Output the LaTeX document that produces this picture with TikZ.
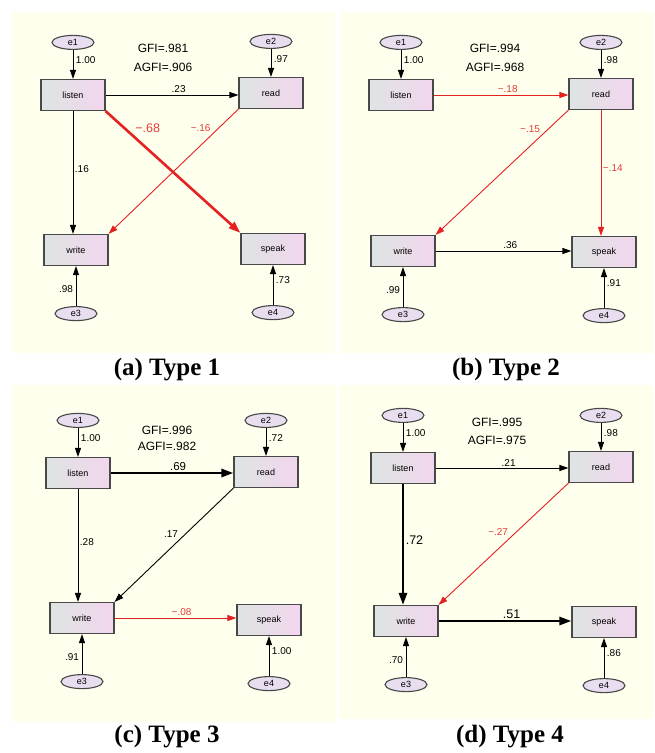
\documentclass[tikz,border=0pt]{standalone}
\usepackage{fontspec}
\setmainfont{Liberation Sans}
\newfontfamily\capfont{Liberation Serif}
\usetikzlibrary{positioning,arrows.meta,shapes.geometric}

\definecolor{cream}{RGB}{255,255,238}
\definecolor{boxleft}{RGB}{222,228,226}
\definecolor{boxright}{RGB}{242,214,238}
\definecolor{errfill}{RGB}{232,222,240}
\definecolor{semred}{RGB}{228,34,34}
\definecolor{labred}{RGB}{226,60,56}
\definecolor{frame}{RGB}{72,72,72}

\tikzset{
  obs/.style={draw=frame, line width=1.1pt, left color=boxleft, right color=boxright,
    minimum width=64pt, minimum height=31pt, inner sep=0pt, font=\fontsize{9}{10}\selectfont},
  err/.style={ellipse, draw=frame, line width=1.1pt, fill=errfill,
    minimum width=42pt, minimum height=14pt, inner sep=0pt, font=\fontsize{9}{10}\selectfont},
  link/.style={line width=0.9pt, -{Triangle[length=9pt,width=6pt]}},
  neg/.style={link, draw=semred},
  strong/.style={line width=2.6pt, -{Triangle[length=12pt,width=8pt]}},
  strongneg/.style={strong, draw=semred},
  lab/.style={font=\fontsize{10}{11}\selectfont, inner sep=1.5pt},
  neglab/.style={lab, text=labred},
  big/.style={font=\fontsize{12.5}{14}\selectfont, inner sep=1.5pt},
  gof/.style={align=center},
  caption/.style={font=\capfont\bfseries\fontsize{25}{28}\selectfont},
}

% boxes and error terms of one panel
\newcommand{\sempanel}[5]{%
  \node[obs] (#1-listen) at (#2) {listen};
  \node[obs] (#1-read) at (#3) {read};
  \node[obs] (#1-write) at (#4) {write};
  \node[obs] (#1-speak) at (#5) {speak};
  \node[err, above=29pt of #1-listen] (#1-e1) {e1};
  \node[err, above=28pt of #1-read] (#1-e2) {e2};
  \node[err, below=40pt of #1-write] (#1-e3) {e3};
  \node[err, below=40pt of #1-speak] (#1-e4) {e4};
}
\newcommand{\semerrors}[5]{%
  \draw[link] (#1-e1) -- (#1-listen) node[pos=.35, right=1pt, lab] {#2};
  \draw[link] (#1-e2) -- (#1-read) node[pos=.35, right=1pt, lab] {#3};
  \draw[link] (#1-e3) -- (#1-write) node[pos=.42, left=1pt, lab] {#4};
  \draw[link] (#1-e4) -- (#1-speak) node[pos=.62, right=1pt, lab] {#5};
}

\begin{document}
\begin{tikzpicture}[x=1pt, y=-1pt]
  \useasboundingbox (0,0) rectangle (654,753);
  \fill[cream] (12,12) rectangle (335,353);
  \fill[cream] (340,12) rectangle (654,353);
  \fill[cream] (12,385) rectangle (337,722);
  \fill[cream] (340,385) rectangle (654,719);

  % (a) Type 1
  \sempanel{a}{73,95}{271,93}{76,250}{273,249}
  \semerrors{a}{1.00}{.97}{.98}{.73}
  \node[gof, font=\fontsize{12}{19}\selectfont] (a-fit) at (163,57.5) {GFI=.981\\AGFI=.906};
  \draw[link] (a-listen) -- (a-listen -| a-read.west) node[pos=.55, above, lab] {.23};
  \draw[link] (a-listen.south) -- (a-listen |- a-write.north) node[pos=.47, right, lab] {.16};
  \draw[strongneg] (a-listen.south east) -- (a-speak.north west)
    node[pos=.2, anchor=south west, big, text=labred] {−.68};
  \draw[neg] (a-read.south west) -- (a-write.north east)
    node[pos=.2, anchor=south east, neglab] {−.16};
  \node[caption] (a-cap) at (167,370) {(a) Type 1};

  % (b) Type 2
  \sempanel{b}{401,95}{601,94}{403,251}{604,252}
  \semerrors{b}{1.00}{.98}{.99}{.91}
  \node[gof, font=\fontsize{12}{19}\selectfont] (b-fit) at (495,57.5) {GFI=.994\\AGFI=.968};
  \draw[neg] (b-listen) -- (b-listen -| b-read.west) node[pos=.55, above, neglab] {−.18};
  \draw[neg] (b-read.south west) -- (b-write.north east)
    node[pos=.2, anchor=south east, neglab] {−.15};
  \draw[neg] (b-read.south) -- (b-read |- b-speak.north) node[pos=.46, right, neglab] {−.14};
  \draw[link] (b-write) -- (b-write -| b-speak.west) node[pos=.55, above, lab] {.36};
  \node[caption] (b-cap) at (506,370) {(b) Type 2};

  % (c) Type 3
  \sempanel{c}{78,473}{266,472}{82,618}{269,620}
  \semerrors{c}{1.00}{.72}{.91}{1.00}
  \node[gof, font=\fontsize{12}{16}\selectfont] (c-fit) at (167,438) {GFI=.996\\AGFI=.982};
  \draw[strong] (c-listen) -- (c-listen -| c-read.west)
    node[pos=.55, above, lab, font=\fontsize{11.5}{13}\selectfont] {.69};
  \draw[link] (c-listen.south) -- (c-listen |- c-write.north) node[pos=.47, right, lab] {.28};
  \draw[link] (c-read.south west) -- (c-write.north east)
    node[pos=.45, anchor=south east, lab] {.17};
  \draw[neg] (c-write) -- (c-write -| c-speak.west) node[pos=.55, above, neglab] {−.08};
  \node[caption] (c-cap) at (167,737) {(c) Type 3};

  % (d) Type 4
  \sempanel{d}{403,468}{601,467}{406,621}{604,622}
  \semerrors{d}{1.00}{.98}{.70}{.86}
  \node[gof, font=\fontsize{12}{18}\selectfont] (d-fit) at (497,431) {GFI=.995\\AGFI=.975};
  \draw[link] (d-listen) -- (d-listen -| d-read.west) node[pos=.55, above, lab] {.21};
  \draw[strong] (d-listen.south) -- (d-listen |- d-write.north) node[pos=.46, right, big] {.72};
  \draw[neg] (d-read.south west) -- (d-write.north east)
    node[pos=.45, anchor=south east, neglab] {−.27};
  \draw[strong] (d-write) -- (d-write -| d-speak.west) node[pos=.55, above, big] {.51};
  \node[caption] (d-cap) at (510,737) {(d) Type 4};
\end{tikzpicture}
\end{document}
